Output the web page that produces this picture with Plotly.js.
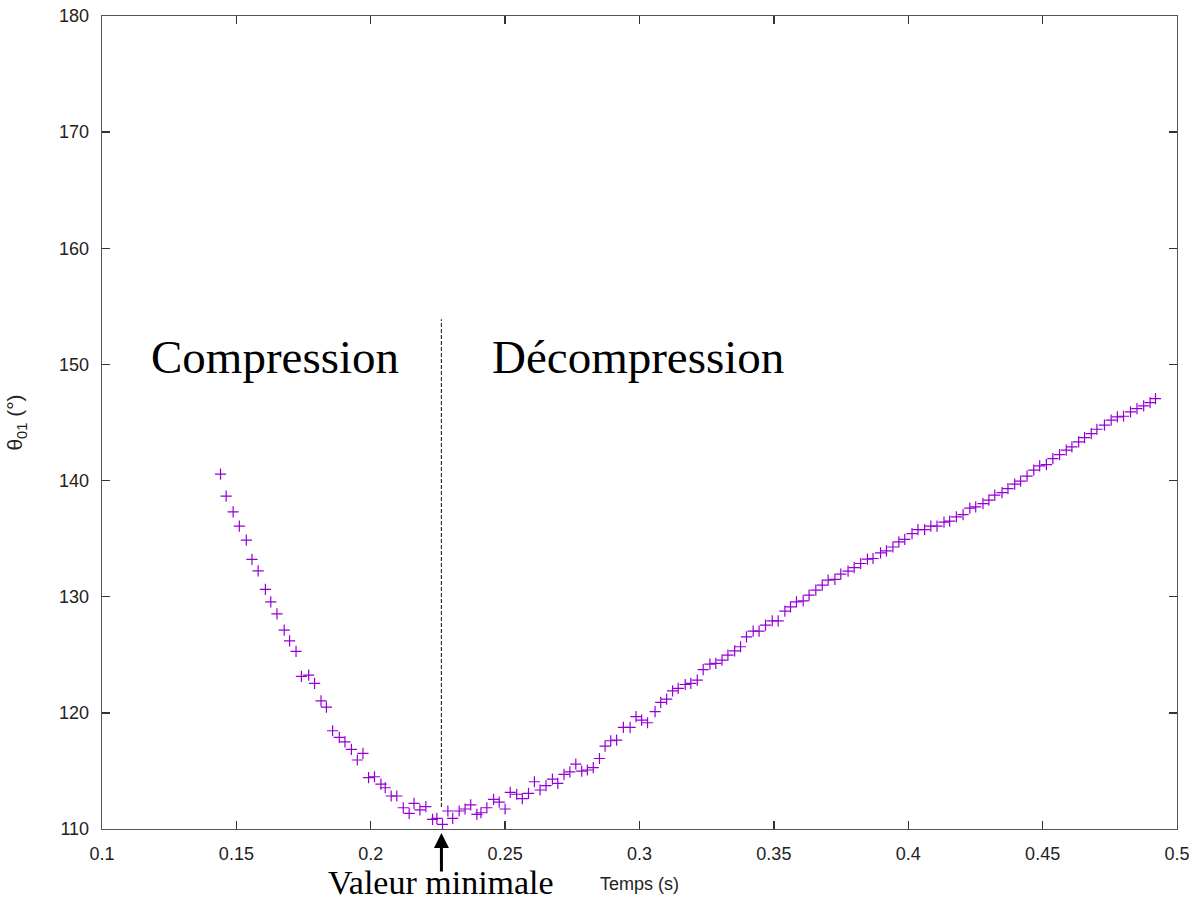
<!DOCTYPE html>
<html>
<head>
<meta charset="utf-8">
<script src="https://cdn.plot.ly/plotly-3.0.1.min.js"></script>
<style>html,body{margin:0;padding:0;background:#fff;}#chart{width:1195px;height:901px;}</style>
</head>
<body>
<div id="chart"></div>
<script>
// Time (s)
var tempsS = [
  0.1441,0.1462,0.1488,0.1511,0.1537,0.1558,0.1581,0.1608,0.1628,0.1651,
  0.1678,0.1698,0.1722,0.1742,0.1769,0.1791,0.1815,0.1835,0.1858,0.1883,
  0.1904,0.1928,0.1950,0.1971,0.1992,0.2014,0.2038,0.2054,0.2076,0.2097,
  0.2121,0.2143,0.2161,0.2183,0.2205,0.2230,0.2246,0.2267,0.2287,0.2305,
  0.2329,0.2351,0.2372,0.2395,0.2410,0.2432,0.2457,0.2478,0.2500,0.2519,
  0.2543,0.2564,0.2587,0.2609,0.2630,0.2652,0.2676,0.2696,0.2719,0.2741,
  0.2763,0.2785,0.2806,0.2828,0.2851,0.2872,0.2893,0.2915,0.2940,0.2965,
  0.2987,0.3008,0.3030,0.3058,0.3079,0.3101,0.3123,0.3144,0.3170,0.3191,
  0.3215,0.3237,0.3262,0.3284,0.3307,0.3329,0.3354,0.3376,0.3398,0.3423,
  0.3445,0.3469,0.3494,0.3516,0.3541,0.3562,0.3584,0.3609,0.3631,0.3656,
  0.3680,0.3702,0.3727,0.3749,0.3776,0.3799,0.3823,0.3848,0.3869,0.3897,
  0.3919,0.3943,0.3965,0.3987,0.4014,0.4036,0.4061,0.4084,0.4107,0.4133,
  0.4154,0.4179,0.4204,0.4229,0.4251,0.4278,0.4300,0.4322,0.4349,0.4371,
  0.4396,0.4418,0.4442,0.4467,0.4489,0.4514,0.4538,0.4563,0.4588,0.4609,
  0.4634,0.4656,0.4681,0.4702,0.4730,0.4755,0.4778,0.4801,0.4827,0.4851,
  0.4876,0.4900,0.4920
];
// Angle theta01 (deg)
var theta01 = [
  140.55,138.66,137.31,136.08,134.87,133.21,132.23,130.63,129.56,128.53,
  127.13,126.20,125.29,123.14,123.25,122.54,121.04,120.50,118.46,117.89,
  117.51,116.86,115.94,116.51,114.42,114.50,113.87,113.55,112.84,112.84,
  111.83,111.35,112.21,111.64,111.92,110.83,110.92,110.40,111.55,110.92,
  111.55,111.72,112.07,111.26,111.40,111.83,112.55,112.32,111.72,113.16,
  112.99,112.61,113.07,114.07,113.36,113.73,114.30,113.93,114.71,114.91,
  115.59,114.99,115.08,115.28,116.07,117.14,117.60,117.66,118.75,118.75,
  119.67,119.38,119.15,120.10,120.90,121.19,121.90,122.11,122.44,122.53,
  122.82,123.73,124.20,124.26,124.54,124.97,125.34,125.69,126.55,127.04,
  127.04,127.56,127.92,127.92,128.76,129.13,129.56,129.65,130.14,130.57,
  131.00,131.43,131.49,131.95,132.20,132.51,132.86,133.24,133.29,133.77,
  133.95,134.28,134.72,134.93,135.43,135.77,135.77,136.08,136.08,136.43,
  136.51,136.88,137.07,137.63,137.73,138.01,138.31,138.74,138.96,139.30,
  139.69,139.95,140.38,140.90,141.26,141.38,141.89,142.23,142.62,142.90,
  143.33,143.69,144.05,144.42,144.77,145.20,145.48,145.54,145.91,146.19,
  146.43,146.71,147.05
];
var xTickVals = [0.1,0.15,0.2,0.25,0.3,0.35,0.4,0.45,0.5];
var xTickText = ["0.1","0.15","0.2","0.25","0.3","0.35","0.4","0.45","0.5"];
var yTickVals = [110,120,130,140,150,160,170,180];
var yTickText = ["110","120","130","140","150","160","170","180"];
var separationX = [0.2263, 0.2263];
var separationY = [111.9, 153.9];
var phaseLabels = ["Compression", "Décompression"];
var phaseLabelX = [0.1645, 0.2993];
var phaseLabelY = 150.6;
var minimumLabel = "Valeur minimale";
var minimumX = 0.2263;

var traces = [
  {
    x: tempsS, y: theta01, type: 'scatter', mode: 'markers',
    marker: {symbol: 'cross-thin', size: 8, color: '#9400d3', line: {width: 1.2, color: '#9400d3'}},
    showlegend: false, hoverinfo: 'x+y'
  },
  {
    x: separationX, y: separationY, type: 'scatter', mode: 'lines',
    line: {color: '#333333', width: 1.2, dash: '4px,2px'},
    showlegend: false, hoverinfo: 'skip'
  }
];

var annotations = [];
for (var i = 0; i < phaseLabels.length; i++) {
  annotations.push({
    x: phaseLabelX[i], y: phaseLabelY, xref: 'x', yref: 'y',
    text: phaseLabels[i], showarrow: false,
    font: {family: '"Liberation Serif", "Times New Roman", serif', size: 47, color: '#000'}
  });
}
annotations.push({
  x: minimumX, y: -0.005, xref: 'x', yref: 'paper',
  text: '', showarrow: true, arrowhead: 2, arrowsize: 1, arrowwidth: 3, arrowcolor: '#000',
  ax: 0, ay: 40, standoff: 0
});
annotations.push({
  x: minimumX, y: -0.066, xref: 'x', yref: 'paper',
  text: minimumLabel, showarrow: false, yanchor: 'middle', xanchor: 'center',
  font: {family: '"Liberation Serif", "Times New Roman", serif', size: 34, color: '#000'}
});

var axisCommon = {
  showgrid: false, zeroline: false, showline: true, mirror: 'ticks',
  linecolor: '#555555', linewidth: 1.3, ticks: 'inside', ticklen: 8, tickwidth: 1.3,
  tickcolor: '#333333',
  tickfont: {family: '"Liberation Sans", Arial, sans-serif', size: 18, color: '#222'}
};

var layout = {
  width: 1195, height: 901,
  margin: {l: 102, r: 18, t: 16, b: 72},
  paper_bgcolor: '#ffffff', plot_bgcolor: '#ffffff',
  xaxis: Object.assign({}, axisCommon, {
    range: [0.1, 0.5], tickmode: 'array', tickvals: xTickVals, ticktext: xTickText,
    ticklabelstandoff: 8,
    title: {text: 'Temps (s)', standoff: 14, font: {family: '"Liberation Sans", Arial, sans-serif', size: 18, color: '#222'}}
  }),
  yaxis: Object.assign({}, axisCommon, {
    range: [110, 180], tickmode: 'array', tickvals: yTickVals, ticktext: yTickText,
    ticklabelstandoff: 8,
    title: {text: 'θ<sub>01</sub> (°)', standoff: 30, font: {family: '"Liberation Sans", Arial, sans-serif', size: 21, color: '#222'}}
  }),
  annotations: annotations
};

Plotly.newPlot('chart', traces, layout, {displayModeBar: false, staticPlot: true});
</script>
</body>
</html>
